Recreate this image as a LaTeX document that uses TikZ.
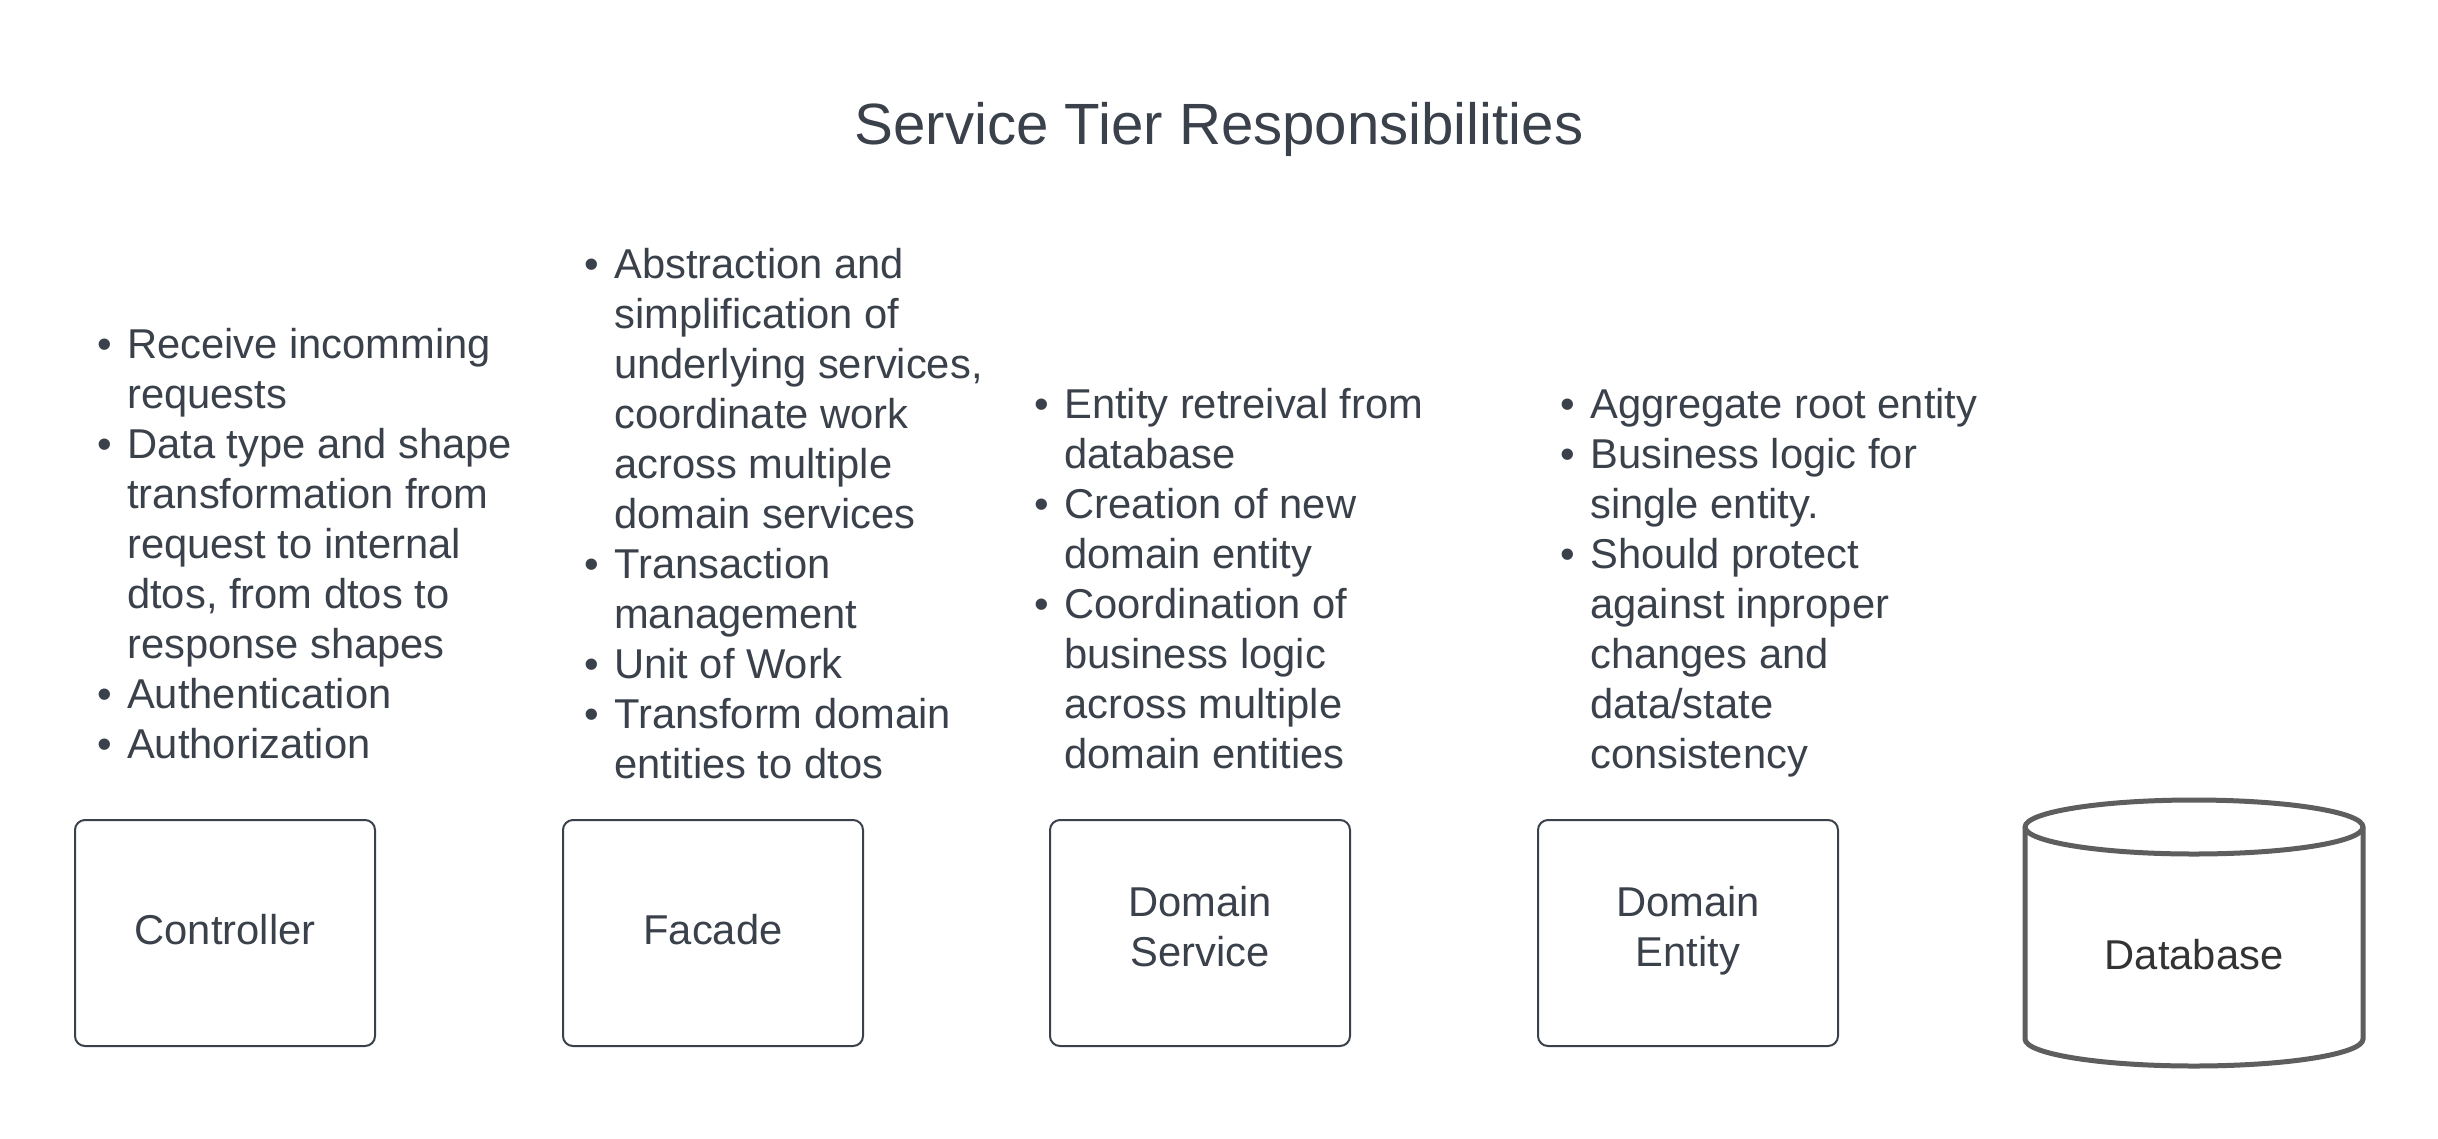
\documentclass[tikz,border=0pt]{standalone}
\usepackage{fontspec}
\setmainfont{Liberation Sans}
\definecolor{ink}{HTML}{3A414A}
\definecolor{dbline}{HTML}{5E5E5E}
\definecolor{dbtext}{HTML}{333333}
\newcommand\bl{\makebox[29.5pt][l]{•}}
\newcommand\ind{\hspace*{29.5pt}}
\tikzset{
  bodyfont/.style={font=\fontsize{41.7}{50}\selectfont},
  bullets/.style={bodyfont, text=ink, inner sep=0pt, anchor=base west},
  tierbox/.style={draw=ink, line width=2pt, rounded corners=10pt, minimum width=300pt, minimum height=226pt, bodyfont, text=ink, align=center, inner sep=0pt},
  oneline/.style={text height=31pt, text depth=9pt},
  twoline/.style={text height=75pt, text depth=9pt},
}
\begin{document}
\begin{tikzpicture}[x=1pt,y=-1pt]
\path[fill=white,use as bounding box] (0,0) rectangle (2438,1138);

\node[font=\fontsize{58.2}{70}\selectfont, text=ink, inner sep=0pt, anchor=base] (title) at (1219,144) {Service Tier Responsibilities};

\node[bullets] (l1) at (97.5,358) {\begin{tabular}[t]{@{}l@{}}
\bl Receive incomming\\
\ind requests\\
\bl Data type and shape\\
\ind transformation from\\
\ind request to internal\\
\ind dtos, from dtos to\\
\ind response shapes\\
\bl Authentication\\
\bl Authorization
\end{tabular}};

\node[bullets] (l2) at (584.5,278) {\begin{tabular}[t]{@{}l@{}}
\bl Abstraction and\\
\ind simplification of\\
\ind underlying services,\\
\ind coordinate work\\
\ind across multiple\\
\ind domain services\\
\bl Transaction\\
\ind management\\
\bl Unit of Work\\
\bl Transform domain\\
\ind entities to dtos
\end{tabular}};

\node[bullets] (l3) at (1034.5,418) {\begin{tabular}[t]{@{}l@{}}
\bl Entity retreival from\\
\ind database\\
\bl Creation of new\\
\ind domain entity\\
\bl Coordination of\\
\ind business logic\\
\ind across multiple\\
\ind domain entities
\end{tabular}};

\node[bullets] (l4) at (1560.5,418) {\begin{tabular}[t]{@{}l@{}}
\bl Aggregate root entity\\
\bl Business logic for\\
\ind single entity.\\
\bl Should protect\\
\ind against inproper\\
\ind changes and\\
\ind data/state\\
\ind consistency
\end{tabular}};

\node[tierbox, oneline] (ctrl) at (225,933) {Controller};
\node[tierbox, oneline] (facade) at (713,933) {Facade};
\node[tierbox, twoline] (dsvc) at (1200,933) {\begin{tabular}[b]{@{}c@{}}Domain\\Service\end{tabular}};
\node[tierbox, twoline] (dent) at (1688,933) {\begin{tabular}[b]{@{}c@{}}Domain\\Entity\end{tabular}};

% database cylinder
\draw[dbline, line width=5pt, fill=white]
  (2025,827) -- (2025,1039) arc[start angle=180, end angle=360, x radius=169, y radius=-27]
  -- (2363,827) arc[start angle=0, end angle=180, x radius=169, y radius=-27] -- cycle;
\draw[dbline, line width=5pt] (2025,827) arc[start angle=180, end angle=360, x radius=169, y radius=-27];
\node[bodyfont, text=dbtext, inner sep=0pt, anchor=base] (db) at (2194,969) {Database};
\end{tikzpicture}
\end{document}
